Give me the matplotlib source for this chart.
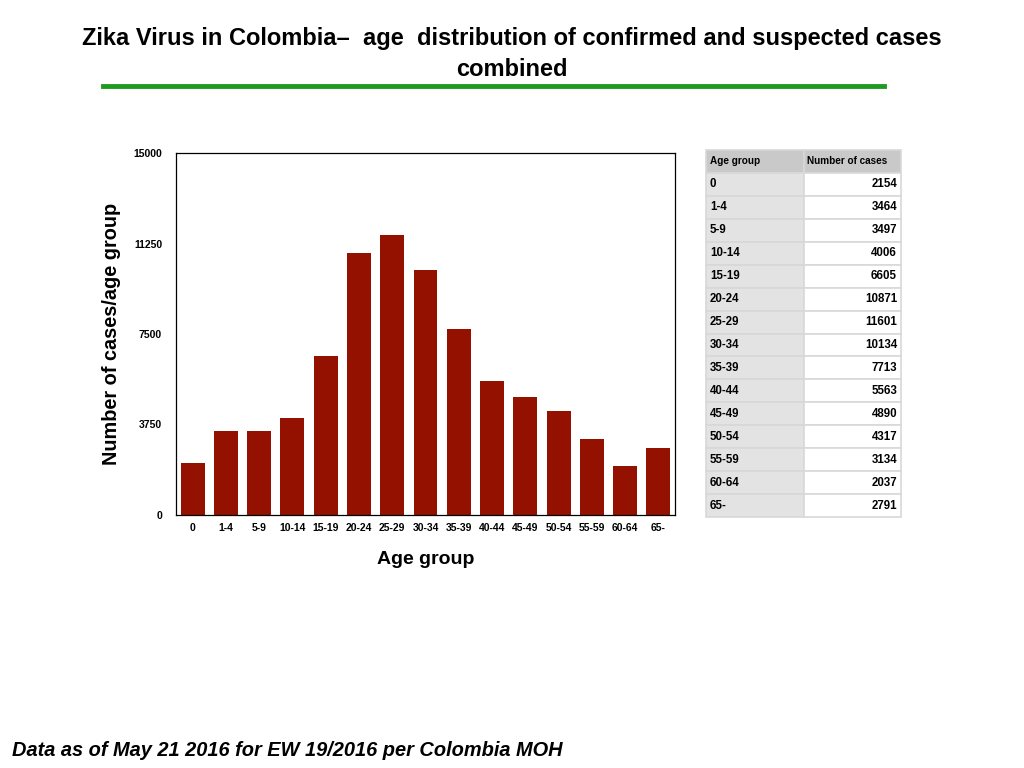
import numpy as np
import matplotlib.pyplot as plt

age_groups = ['0', '1-4', '5-9', '10-14', '15-19', '20-24', '25-29', '30-34',
              '35-39', '40-44', '45-49', '50-54', '55-59', '60-64', '65-']
cases = [2154, 3464, 3497, 4006, 6605, 10871, 11601, 10134,
         7713, 5563, 4890, 4317, 3134, 2037, 2791]
y_ticks = [0, 3750, 7500, 11250, 15000]

plt.rcParams['font.family'] = ['Liberation Sans', 'DejaVu Sans']

fig = plt.figure(figsize=(10.24, 7.68), dpi=100)

# titre + ligne verte
fig.text(0.5, 1 - 38 / 768, 'Zika Virus in Colombia\u2013  age  distribution of confirmed and suspected cases',
         ha='center', va='center', fontsize=17, fontweight='bold')
fig.text(0.5, 1 - 70 / 768, 'combined', ha='center', va='center', fontsize=17, fontweight='bold')
fig.add_artist(plt.Line2D([103 / 1024, 884 / 1024], [1 - 86 / 768] * 2,
                          color='#1f9a1f', lw=3.5, transform=fig.transFigure))

# wykres slupkowy
ax = fig.add_axes([176 / 1024, 1 - 515 / 768, 499 / 1024, 362 / 768])
x = np.arange(len(age_groups))
ax.bar(x, cases, width=0.72, color='#941100')
ax.set_xlim(-0.5, len(age_groups) - 0.5)
ax.set_ylim(0, 15000)
ax.set_yticks(y_ticks)
ax.set_yticklabels([str(v) for v in y_ticks], fontsize=7.5, fontweight='bold')
ax.set_xticks(x)
ax.set_xticklabels(age_groups, fontsize=7.5, fontweight='bold')
ax.tick_params(axis='y', length=0, pad=10)
ax.tick_params(axis='x', length=0, pad=6)
for s in ax.spines.values():
    s.set_linewidth(0.9)
ax.set_xlabel('Age group', fontsize=14, fontweight='bold', labelpad=13)
ax.set_ylabel('Number of cases/age group', fontsize=14.3, fontweight='bold', labelpad=9)

# tabela
tax = fig.add_axes([706 / 1024, 1 - 517 / 768, 195 / 1024, 367 / 768])
tax.axis('off')
rows = [['Age group', 'Number of cases']] + [[a, str(c)] for a, c in zip(age_groups, cases)]
colors = [['#c9c9c9', '#c9c9c9']] + [['#e3e3e3', '#ffffff']] * len(age_groups)
tbl = tax.table(cellText=rows, cellColours=colors, bbox=[0, 0, 1, 1], colWidths=[0.5, 0.5])
tbl.auto_set_font_size(False)
for (r, c), cell in tbl.get_celld().items():
    cell.set_edgecolor('#d8d8d8')
    cell.set_linewidth(1.2)
    t = cell.get_text()
    t.set_fontweight('bold')
    cell.PAD = 0.04
    if r == 0:
        t.set_fontsize(7.2)
        t.set_ha('left')
    else:
        t.set_fontsize(8.3)
        t.set_ha('left' if c == 0 else 'right')

fig.text(12 / 1024, 1 - 751 / 768, 'Data as of May 21 2016 for EW 19/2016 per Colombia MOH',
         ha='left', va='center', fontsize=14.4, fontweight='bold', style='italic')

fig.savefig('out.png', dpi=100)
